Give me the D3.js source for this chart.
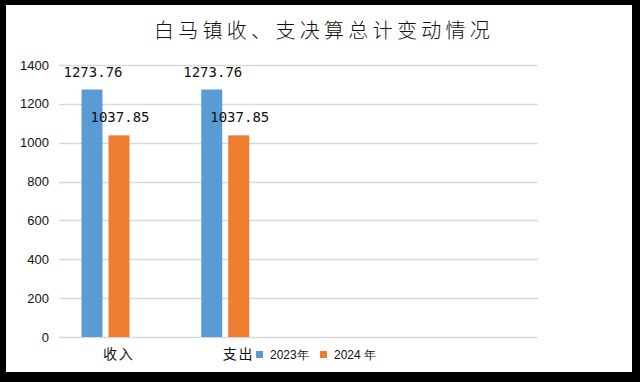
<!DOCTYPE html>
<html>
<head>
<meta charset="utf-8">
<script src="https://cdn.jsdelivr.net/npm/d3@7"></script>
<style>
  html, body { margin: 0; padding: 0; background: #000; }
  svg { display: block; }
</style>
</head>
<body>
<div id="vis"></div>
<script>
// chart data
const title = "白马镇收、支决算总计变动情况";
const categories = ["收入", "支出"];
const seriesNames = ["2023年", "2024 年"];
const values2023 = [1273.76, 1273.76];
const values2024 = [1037.85, 1037.85];
const yTicks = [0, 200, 400, 600, 800, 1000, 1200, 1400];

const width = 640;
const height = 382;
const colours = ["#5b9bd5", "#ed7d31"];

// plot area
const plot = { left: 59, right: 538, top: 65, bottom: 337 };

const svg = d3
  .select("#vis")
  .append("svg")
  .attr("width", width)
  .attr("height", height);

// white chart panel inside the black frame
svg
  .append("rect")
  .attr("x", 6)
  .attr("y", 5)
  .attr("width", 626)
  .attr("height", 367)
  .attr("fill", "#fff");

svg
  .append("text")
  .attr("x", 324)
  .attr("y", 38)
  .attr("text-anchor", "middle")
  .style("font-family", "'Noto Sans CJK SC'")
  .style("font-size", "20px")
  .style("font-weight", 300)
  .style("letter-spacing", "4.3px")
  .attr("fill", "#111")
  .text(title);

const y = d3.scaleLinear().domain([0, 1400]).range([plot.bottom, plot.top]);

// the category axis has four slots, only the first two are used
const x = d3.scaleBand().domain(d3.range(4)).range([plot.left, plot.right]);

const xInner = d3
  .scaleBand()
  .domain([0, 1])
  .range([22.5, 70.5])
  .paddingInner(0.222);

// gridlines
svg
  .append("g")
  .selectAll("line")
  .data(yTicks)
  .join("line")
  .attr("x1", plot.left)
  .attr("x2", plot.right)
  .attr("y1", (d) => Math.round(y(d)) + 0.5)
  .attr("y2", (d) => Math.round(y(d)) + 0.5)
  .attr("stroke", "#d9d9d9")
  .attr("stroke-width", 1.5);

// y tick labels
svg
  .append("g")
  .selectAll("text")
  .data(yTicks)
  .join("text")
  .attr("x", 49)
  .attr("y", (d) => y(d))
  .attr("dy", "0.35em")
  .attr("text-anchor", "end")
  .style("font-family", "'Liberation Sans'")
  .style("font-size", "13px")
  .attr("fill", "#111")
  .text((d) => d);

const rows = categories.map((c, i) => ({
  cat: i,
  vals: [values2023[i], values2024[i]],
}));

const groups = svg
  .append("g")
  .selectAll("g")
  .data(rows)
  .join("g")
  .attr("transform", (d) => `translate(${x(d.cat)},0)`);

groups
  .selectAll("rect")
  .data((d) => d.vals.map((v, s) => ({ v, s })))
  .join("rect")
  .attr("x", (d) => xInner(d.s))
  .attr("width", xInner.bandwidth())
  .attr("y", (d) => y(d.v))
  .attr("height", (d) => y(0) - y(d.v))
  .attr("fill", (d) => colours[d.s]);

// value labels above the bars
groups
  .selectAll("text")
  .data((d) => d.vals.map((v, s) => ({ v, s })))
  .join("text")
  .attr("x", (d) => xInner(d.s) + xInner.bandwidth() / 2 + 1)
  .attr("y", (d) => y(d.v) - 13)
  .attr("text-anchor", "middle")
  .style("font-family", "'DejaVu Sans Mono'")
  .style("font-size", "14px")
  .attr("fill", "#111")
  .text((d) => d.v.toFixed(2));

// category labels
svg
  .append("g")
  .selectAll("text")
  .data(categories)
  .join("text")
  .attr("x", (d, i) => x(i) + x.bandwidth() / 2)
  .attr("y", 359)
  .attr("text-anchor", "middle")
  .style("font-family", "'Noto Sans CJK SC'")
  .style("font-size", "14px")
  .style("letter-spacing", "2px")
  .attr("fill", "#111")
  .text((d) => d);

// legend
const legendX = [256, 320];
const legend = svg
  .append("g")
  .selectAll("g")
  .data(seriesNames)
  .join("g")
  .attr("transform", (d, i) => `translate(${legendX[i]},351)`);

legend
  .append("rect")
  .attr("width", 7)
  .attr("height", 7)
  .attr("fill", (d, i) => colours[i]);

legend
  .append("text")
  .attr("x", 14)
  .attr("y", 8)
  .style("font-family", "'Liberation Sans'")
  .style("font-size", "12px")
  .attr("fill", "#111")
  .text((d) => d);
</script>
</body>
</html>
